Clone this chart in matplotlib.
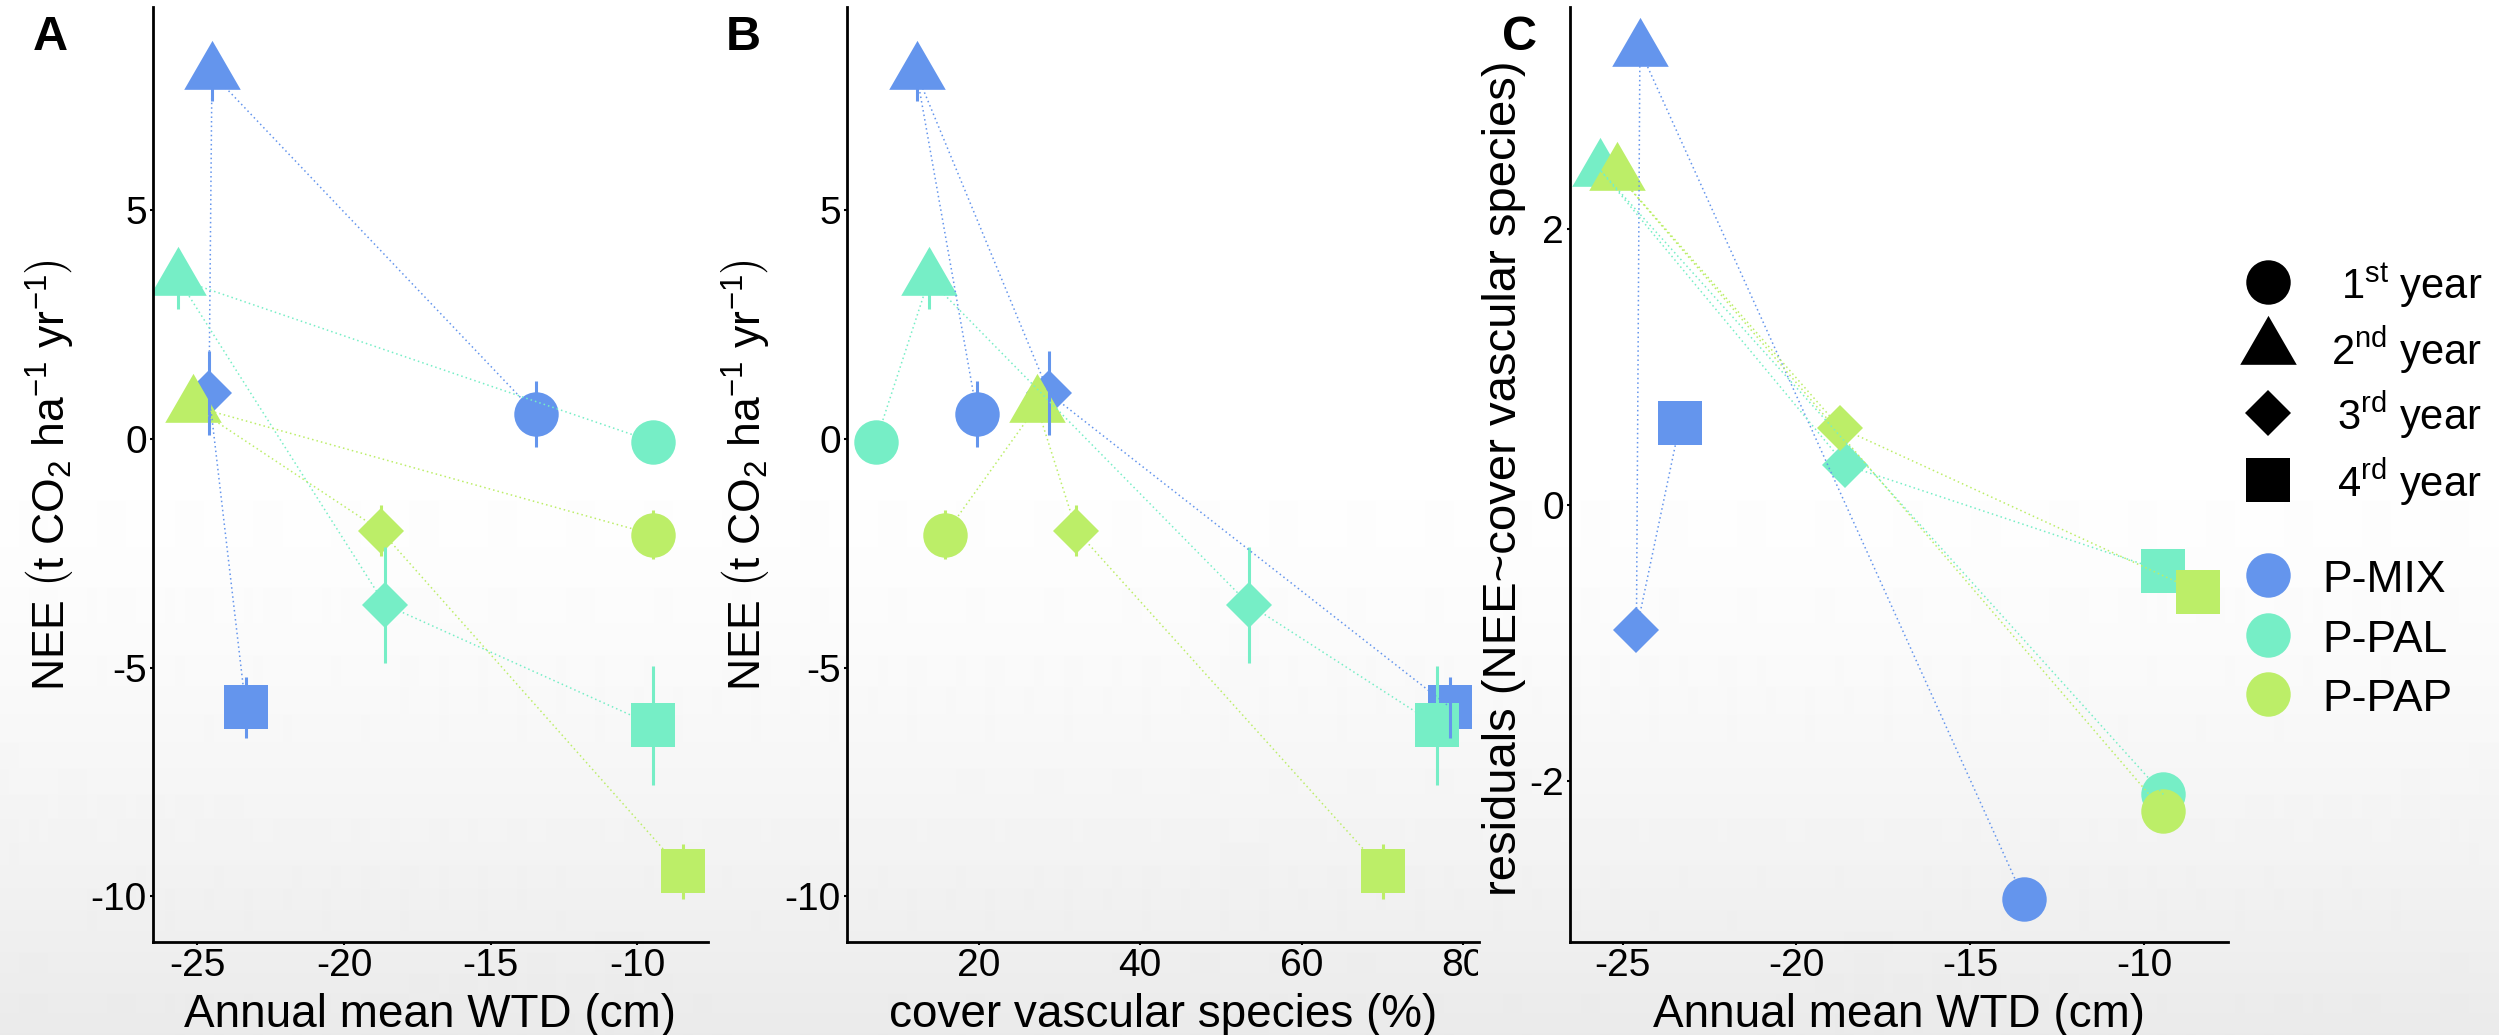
import numpy as np
import matplotlib
matplotlib.use('Agg')
import matplotlib.pyplot as plt
from matplotlib.transforms import Bbox, TransformedBbox

plt.rcParams['font.family'] = ['Liberation Sans', 'DejaVu Sans']
plt.rcParams['mathtext.fontset'] = 'custom'
plt.rcParams['mathtext.rm'] = 'Liberation Sans'
plt.rcParams['mathtext.it'] = 'Liberation Sans:italic'
plt.rcParams['mathtext.bf'] = 'Liberation Sans:bold'
plt.rcParams['axes.unicode_minus'] = False

# ---------------- data ----------------
sites = ['P-MIX', 'P-PAL', 'P-PAP']
site_colors = ['#6495ED', '#76EEC6', '#BCEE68']
year_labels = [r'$\mathrm{1^{st}\ year}$', r'$\mathrm{2^{nd}\ year}$',
               r'$\mathrm{3^{rd}\ year}$', r'$\mathrm{4^{rd}\ year}$']

# annual mean water table depth (cm), years 1..4
wtd_mix = [-13.45, -24.5, -24.6, -23.35]
wtd_pal = [-9.45, -25.65, -18.6, -9.45]
wtd_pap = [-9.45, -25.15, -18.75, -8.45]

# NEE (t CO2 ha-1 yr-1) and its error
nee_mix = [0.55, 8.0, 1.0, -5.87]
nee_pal = [-0.06, 3.5, -3.62, -6.26]
nee_pap = [-2.09, 0.72, -2.0, -9.45]
nee_sd_mix = [0.72, 0.6, 0.92, 0.67]
nee_sd_pal = [0.3, 0.65, 1.27, 1.3]
nee_sd_pap = [0.54, 0.3, 0.56, 0.6]

# cover of vascular species (%)
cover_mix = [19.8, 12.3, 28.7, 78.4]
cover_pal = [7.25, 13.85, 53.5, 76.7]
cover_pap = [15.8, 27.2, 32.1, 70.1]

# residuals (NEE ~ cover vascular species)
resid_mix = [-2.86, 3.30, -0.91, 0.59]
resid_pal = [-2.10, 2.43, 0.29, -0.48]
resid_pap = [-2.22, 2.40, 0.56, -0.63]

wtd = [wtd_mix, wtd_pal, wtd_pap]
nee = [nee_mix, nee_pal, nee_pap]
nee_sd = [nee_sd_mix, nee_sd_pal, nee_sd_pap]
cover = [cover_mix, cover_pal, cover_pap]
resid = [resid_mix, resid_pal, resid_pap]

# ---------------- style ----------------
W, H = 2499, 1035
fig = plt.figure(figsize=(W / 100, H / 100), dpi=100)

# background gradient (white -> light grey towards bottom)
yy = np.arange(H)
g = np.where(yy < 420, 255.0, 255.0 - 21.0 * (np.clip(yy - 420, 0, None) / 615.0) ** 1.5)
bgax = fig.add_axes([0, 0, 1, 1])
bgax.imshow(g[:, None], aspect='auto', cmap='gray', vmin=0, vmax=255,
            extent=[0, 1, 0, 1], interpolation='bilinear')
bgax.axis('off')
bgax.set_zorder(-5)

tri = [(0, 1), (-0.866, -0.5), (0.866, -0.5)]
year_markers = ['o', tri, 'D', 's']
year_ms = [32, 47, 23, 32]


def px_axes(l, r, t, b):
    return fig.add_axes([l / W, 1 - b / H, (r - l) / W, (b - t) / H])


def style(ax):
    ax.set_facecolor('none')
    for s in ['top', 'right']:
        ax.spines[s].set_visible(False)
    for s in ['left', 'bottom']:
        ax.spines[s].set_linewidth(2.0)
        ax.spines[s].set_color('black')
    ax.tick_params(direction='out', length=2.5, width=1.5, labelsize=28,
                   pad=2, colors='black')


def draw_panel(ax, xs, ys, sds):
    for si in range(3):
        c = site_colors[si]
        for yi in range(4):
            ax.plot(xs[si][yi], ys[si][yi], marker=year_markers[yi],
                    ms=year_ms[yi], color=c, ls='none', mew=0, zorder=2)
    for si in range(3):
        c = site_colors[si]
        if sds is not None:
            lo = np.array(ys[si]) - np.array(sds[si])
            hi = np.array(ys[si]) + np.array(sds[si])
            ax.vlines(xs[si], lo, hi, color=c, lw=2.2, zorder=3)
        ax.plot(xs[si], ys[si], ls=(0, (1, 2)), lw=1.1, color=c, zorder=4)


# Panel A
axA = px_axes(153, 708, 7, 942)
style(axA)
draw_panel(axA, wtd, nee, nee_sd)
axA.set_xlim(-26.51, -7.59)
axA.set_ylim(-11.0, 9.45)
axA.set_xticks([-25, -20, -15, -10])
axA.set_yticks([-10, -5, 0, 5])

# Panel B
axB = px_axes(847, 1479, 7, 942)
style(axB)
draw_panel(axB, cover, nee, nee_sd)
axB.set_xlim(3.69, 81.96)
axB.set_ylim(-11.0, 9.45)
axB.set_xticks([20, 40, 60, 80])
axB.set_yticks([-10, -5, 0, 5])
clipbox = TransformedBbox(Bbox([[0, 0], [1478 / W, 1]]), fig.transFigure)
for lab in axB.get_xticklabels():
    lab.set_clip_box(clipbox)
    lab.set_clip_on(True)

# Panel C
axC = px_axes(1570, 2228, 7, 942)
style(axC)
draw_panel(axC, wtd, resid, None)
axC.set_xlim(-26.51, -7.59)
axC.set_ylim(-3.17, 3.61)
axC.set_xticks([-25, -20, -15, -10])
axC.set_yticks([-2, 0, 2])

# axis titles
nee_label = r'$\mathrm{NEE}\ \left(\mathrm{t\ CO_2\ ha^{-1}\ yr^{-1}}\right)$'
fig.text(49 / W, 1 - 475 / H, nee_label, rotation=90, ha='center', va='center', fontsize=32)
fig.text(745 / W, 1 - 475 / H, nee_label, rotation=90, ha='center', va='center', fontsize=32)
fig.text(1504 / W, 1 - 478 / H, 'residuals (NEE~cover vascular species)', rotation=90,
         ha='center', va='center', fontsize=34)
for cx, t in [(430, 'Annual mean WTD (cm)'), (1163, 'cover vascular species (%)'),
              (1899, 'Annual mean WTD (cm)')]:
    fig.text(cx / W, 1 - 1027 / H, t, ha='center', va='baseline', fontsize=33)

# panel letters
for cx, t in [(50, 'A'), (743, 'B'), (1520, 'C')]:
    fig.text(cx / W, 1 - 38 / H, t, ha='center', va='center', fontsize=35, fontweight='bold')

# legend (drawn in pixel space)
lax = fig.add_axes([0, 0, 1, 1])
lax.set_xlim(0, W)
lax.set_ylim(H, 0)
lax.axis('off')
lax.patch.set_visible(False)
leg_year_y = [282, 348, 413, 480]
leg_site_y = [575, 635, 694]
for yi in range(4):
    lax.plot(2268, leg_year_y[yi], marker=year_markers[yi], ms=year_ms[yi],
             color='black', mew=0, ls='none')
    lax.text(2482, leg_year_y[yi] + 17, year_labels[yi], ha='right', va='baseline', fontsize=30)
for si in range(3):
    lax.plot(2268, leg_site_y[si], marker='o', ms=32, color=site_colors[si], mew=0, ls='none')
    lax.text(2322, leg_site_y[si] + 17, sites[si], ha='left', va='baseline', fontsize=32)

fig.savefig('out.png', dpi=100)
